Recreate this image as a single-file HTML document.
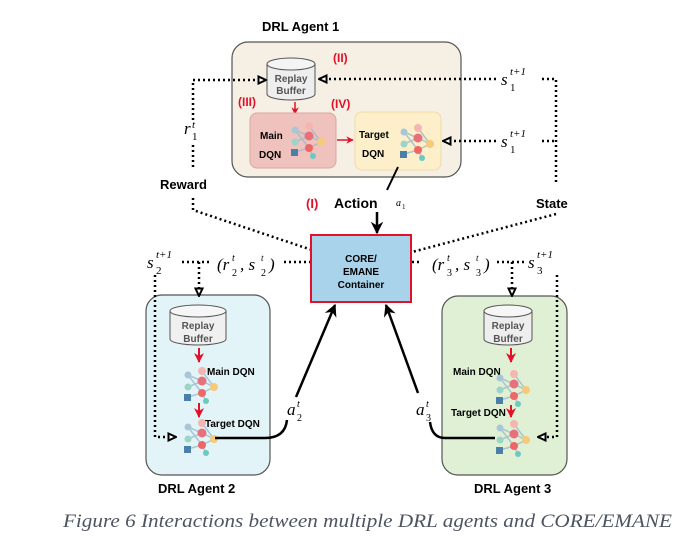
<!DOCTYPE html>
<html><head><meta charset="utf-8"><style>
html,body{margin:0;padding:0;background:#fff;}
svg{display:block;font-family:"Liberation Sans",sans-serif;}
.b{font-weight:bold;}
.m{font-family:"Liberation Serif",serif;font-style:italic;}
</style></head><body>
<svg width="692" height="541" viewBox="0 0 692 541" xmlns="http://www.w3.org/2000/svg">
<defs>
<g id="net">
  <g stroke="#9bc" stroke-width="1.5" opacity="0.8">
    <line x1="-12" y1="-10" x2="2" y2="-4"/><line x1="-12" y1="-10" x2="2" y2="8"/>
    <line x1="-12" y1="2" x2="2" y2="-4"/><line x1="-12" y1="12" x2="2" y2="8"/>
    <line x1="2" y1="-4" x2="14" y2="2"/><line x1="2" y1="8" x2="14" y2="2"/>
    <line x1="2" y1="-14" x2="14" y2="2"/><line x1="2" y1="8" x2="6" y2="16"/>
  </g>
  <circle cx="2" cy="-14" r="4" fill="#f4b6b0"/>
  <circle cx="2" cy="-4" r="4.5" fill="#e8707a"/>
  <circle cx="2" cy="8" r="4" fill="#e66"/>
  <circle cx="-12" cy="-10" r="3.5" fill="#a9c6d8"/>
  <circle cx="-12" cy="2" r="3.5" fill="#9bd4c8"/>
  <rect x="-16" y="9" width="7" height="7" fill="#4a7fa8"/>
  <circle cx="14" cy="2" r="4" fill="#f7c978"/>
  <circle cx="6" cy="16" r="3" fill="#6cc9c0"/>
</g>
<marker id="ot" viewBox="0 0 10 10" refX="9" refY="5" markerUnits="userSpaceOnUse" markerWidth="10" markerHeight="10" orient="auto"><path d="M1.5,1.5 L9,5 L1.5,8.5 Z" fill="#fff" stroke="#000" stroke-width="2"/></marker>
<marker id="ar" viewBox="0 0 10 10" refX="9" refY="5" markerWidth="5" markerHeight="5" orient="auto"><path d="M0,0 L10,5 L0,10 L3,5 Z" fill="#000"/></marker>
<marker id="rr" viewBox="0 0 10 10" refX="9" refY="5" markerWidth="5" markerHeight="5" orient="auto"><path d="M0,0 L10,5 L0,10 L3,5 Z" fill="#e3102a"/></marker>
</defs>

<!-- Agent 1 -->
<text x="262" y="31" class="b" font-size="13">DRL Agent 1</text>
<rect x="232" y="42" width="229" height="135" rx="16" fill="#f6efe3" stroke="#555" stroke-width="1.2"/>
<path d="M267,64 v30 a24,6 0 0 0 48,0 v-30" fill="#eee" stroke="#555"/>
<ellipse cx="291" cy="64" rx="24" ry="6" fill="#f4f4f4" stroke="#555"/>
<text x="291" y="82" font-size="10" text-anchor="middle" class="b" fill="#555">Replay</text>
<text x="291" y="94" font-size="10" text-anchor="middle" class="b" fill="#555">Buffer</text>
<text x="333" y="62" font-size="12" class="b" fill="#e3102a">(II)</text>
<text x="238" y="106" font-size="12" class="b" fill="#e3102a">(III)</text>
<text x="331" y="108" font-size="12" class="b" fill="#e3102a">(IV)</text>
<line x1="295" y1="102" x2="295" y2="114" stroke="#e3102a" stroke-width="1.5" marker-end="url(#rr)"/>
<rect x="250" y="113" width="86" height="55" rx="7" fill="#f0c2bd" stroke="#d9a6a0"/>
<text x="260" y="139" font-size="10" class="b">Main</text>
<text x="259" y="158" font-size="10" class="b">DQN</text>
<use href="#net" x="307" y="140"/>
<line x1="337" y1="140" x2="353" y2="140" stroke="#e3102a" stroke-width="1.5" marker-end="url(#rr)"/>
<rect x="355" y="112" width="86" height="58" rx="7" fill="#fcefc9" stroke="#eedca8"/>
<text x="359" y="138" font-size="10" class="b">Target</text>
<text x="362" y="157" font-size="10" class="b">DQN</text>
<use href="#net" x="416" y="142"/>

<!-- Agent1 dotted -->
<g fill="none" stroke="#000" stroke-width="2.5" stroke-dasharray="2,3">
  <path d="M193,120 V80 H266" marker-end="url(#ot)"/>
  <path d="M193,145 V168"/>
  <path d="M193,198 V210 L312,250"/>
  <path d="M496,79 H319" marker-end="url(#ot)"/>
  <path d="M542,79 H556 V185"/>
  <path d="M556,214 L412,252"/>
  <path d="M496,141 H443" marker-end="url(#ot)"/>
  <path d="M542,141 H556"/>
</g>
<text x="184" y="134" class="m" font-size="17">r</text><text x="192" y="128" class="m" font-size="11">t</text><text x="192" y="140" font-size="11" font-family="Liberation Serif">1</text>
<text x="501" y="85" class="m" font-size="17">s</text><text x="510" y="75" class="m" font-size="11">t+1</text><text x="510" y="91" font-size="11" font-family="Liberation Serif">1</text>
<text x="501" y="147" class="m" font-size="17">s</text><text x="510" y="137" class="m" font-size="11">t+1</text><text x="510" y="153" font-size="11" font-family="Liberation Serif">1</text>
<text x="160" y="189" class="b" font-size="13">Reward</text>
<text x="536" y="208" class="b" font-size="13">State</text>

<!-- Action -->
<line x1="398" y1="167" x2="387" y2="190" stroke="#000" stroke-width="2"/>
<text x="306" y="208" class="b" font-size="13" fill="#e3102a">(I)</text>
<text x="334" y="208" class="b" font-size="14">Action</text>
<text x="396" y="206" class="m" font-size="10">a</text><text x="402" y="209" font-size="7" font-family="Liberation Serif">1</text>
<line x1="377" y1="212" x2="377" y2="233" stroke="#000" stroke-width="2.5" marker-end="url(#ar)"/>

<!-- CORE -->
<rect x="311" y="235" width="100" height="67" fill="#a8d3eb" stroke="#e3102a" stroke-width="2"/>
<text x="361" y="262" text-anchor="middle" font-size="10" class="b">CORE/</text>
<text x="361" y="275" text-anchor="middle" font-size="10" class="b">EMANE</text>
<text x="361" y="288" text-anchor="middle" font-size="10" class="b">Container</text>

<!-- Agent 2 -->
<rect x="146" y="295" width="124" height="180" rx="16" fill="#e2f4f8" stroke="#555" stroke-width="1.2"/>
<text x="158" y="493" class="b" font-size="13">DRL Agent 2</text>
<path d="M170,311 v28 a28,6 0 0 0 56,0 v-28" fill="#f0f0f0" stroke="#555"/>
<ellipse cx="198" cy="311" rx="28" ry="6" fill="#f6f6f6" stroke="#555"/>
<text x="198" y="329" font-size="10" text-anchor="middle" class="b" fill="#555">Replay</text>
<text x="198" y="342" font-size="10" text-anchor="middle" class="b" fill="#555">Buffer</text>
<line x1="199" y1="348" x2="199" y2="362" stroke="#e3102a" stroke-width="2" marker-end="url(#rr)"/>
<use href="#net" x="200" y="385"/>
<text x="207" y="375" class="b" font-size="10">Main DQN</text>
<line x1="199" y1="403" x2="199" y2="417" stroke="#e3102a" stroke-width="2" marker-end="url(#rr)"/>
<use href="#net" x="200" y="437"/>
<text x="205" y="427" class="b" font-size="10">Target DQN</text>
<g fill="none" stroke="#000" stroke-width="2.5" stroke-dasharray="2,3">
  <path d="M155,275 V437 H176" marker-end="url(#ot)"/>
  <path d="M182,262 H212"/>
  <path d="M199,262 V296" marker-end="url(#ot)"/>
  <path d="M284,262 H310"/>
</g>
<text x="147" y="268" class="m" font-size="17">s</text><text x="156" y="258" class="m" font-size="11">t+1</text><text x="156" y="274" font-size="11" font-family="Liberation Serif">2</text>
<text x="217" y="270" class="m" font-size="17">(r</text><text x="232" y="261" class="m" font-size="10">t</text><text x="232" y="276" font-size="10" font-family="Liberation Serif">2</text><text x="240" y="270" class="m" font-size="17">, s</text><text x="261" y="261" class="m" font-size="9">t</text><text x="261" y="276" font-size="10" font-family="Liberation Serif">2</text><text x="269" y="270" class="m" font-size="17">)</text>
<path d="M215,438 H265 Q285,438 287,420" fill="none" stroke="#000" stroke-width="2.5"/>
<text x="287" y="415" class="m" font-size="17">a</text><text x="297" y="407" class="m" font-size="10">t</text><text x="297" y="421" font-size="10" font-family="Liberation Serif">2</text>
<line x1="296" y1="397" x2="335" y2="305" stroke="#000" stroke-width="2.5" marker-end="url(#ar)"/>

<!-- Agent 3 -->
<rect x="442" y="296" width="125" height="179" rx="16" fill="#dff0d4" stroke="#555" stroke-width="1.2"/>
<text x="474" y="493" class="b" font-size="13">DRL Agent 3</text>
<path d="M484,311 v28 a24,6 0 0 0 48,0 v-28" fill="#eeeeee" stroke="#555"/>
<ellipse cx="508" cy="311" rx="24" ry="6" fill="#f6f6f6" stroke="#555"/>
<text x="508" y="329" font-size="10" text-anchor="middle" class="b" fill="#555">Replay</text>
<text x="508" y="342" font-size="10" text-anchor="middle" class="b" fill="#555">Buffer</text>
<line x1="511" y1="348" x2="511" y2="362" stroke="#e3102a" stroke-width="2" marker-end="url(#rr)"/>
<text x="453" y="375" class="b" font-size="10">Main DQN</text>
<use href="#net" x="512" y="388"/>
<line x1="511" y1="405" x2="511" y2="417" stroke="#e3102a" stroke-width="2" marker-end="url(#rr)"/>
<text x="451" y="416" class="b" font-size="10">Target DQN</text>
<use href="#net" x="512" y="438"/>
<g fill="none" stroke="#000" stroke-width="2.5" stroke-dasharray="2,3">
  <path d="M412,262 H420"/>
  <path d="M497,262 H527"/>
  <path d="M512,262 V296" marker-end="url(#ot)"/>
  <path d="M557,275 V437 H538" marker-end="url(#ot)"/>
</g>
<text x="432" y="270" class="m" font-size="17">(r</text><text x="447" y="261" class="m" font-size="10">t</text><text x="447" y="276" font-size="10" font-family="Liberation Serif">3</text><text x="455" y="270" class="m" font-size="17">, s</text><text x="476" y="261" class="m" font-size="9">t</text><text x="476" y="276" font-size="10" font-family="Liberation Serif">3</text><text x="484" y="270" class="m" font-size="17">)</text>
<text x="528" y="268" class="m" font-size="17">s</text><text x="537" y="258" class="m" font-size="11">t+1</text><text x="537" y="274" font-size="11" font-family="Liberation Serif">3</text>
<path d="M495,438 H445 Q432,438 430,422" fill="none" stroke="#000" stroke-width="2.5"/>
<text x="416" y="415" class="m" font-size="17">a</text><text x="426" y="407" class="m" font-size="10">t</text><text x="426" y="421" font-size="10" font-family="Liberation Serif">3</text>
<line x1="418" y1="393" x2="386" y2="305" stroke="#000" stroke-width="2.5" marker-end="url(#ar)"/>

<!-- Caption -->
<text x="63" y="527" font-family="Liberation Serif, serif" font-style="italic" font-size="19" fill="#4d5560" textLength="609" lengthAdjust="spacingAndGlyphs">Figure 6 Interactions between multiple DRL agents and CORE/EMANE</text>
</svg>
</body></html>
